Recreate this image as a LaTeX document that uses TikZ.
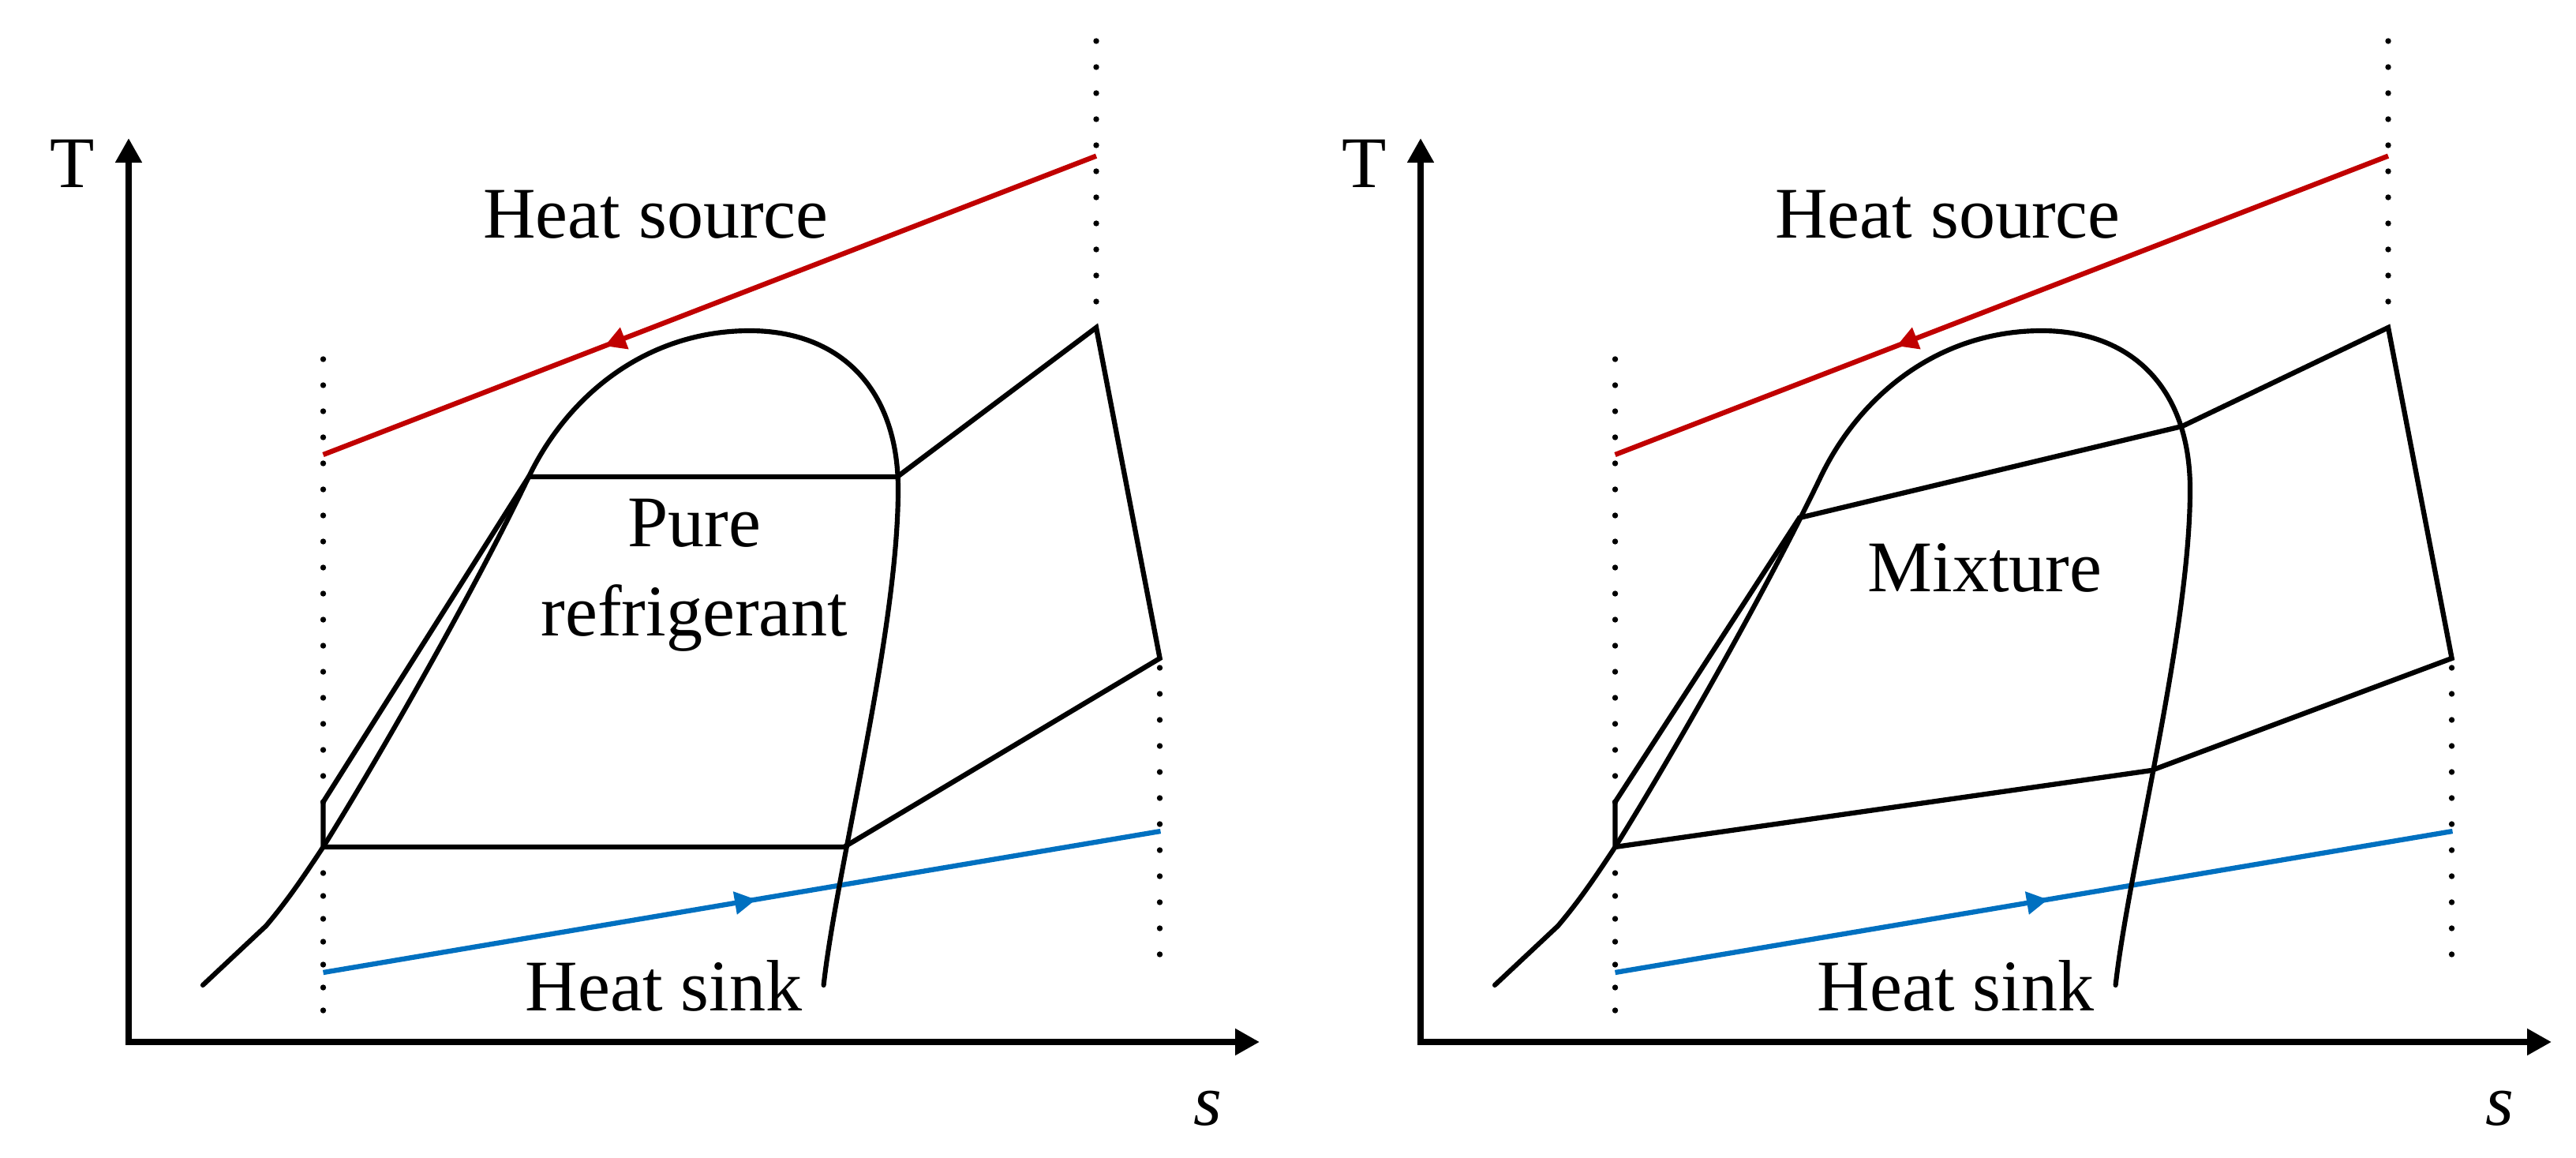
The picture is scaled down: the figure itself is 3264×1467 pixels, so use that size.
\documentclass[tikz,border=0pt]{standalone}
\usepackage{fontspec}
\setmainfont{Liberation Serif}
\usetikzlibrary{arrows.meta,decorations.markings}
\definecolor{srcred}{RGB}{192,0,0}
\definecolor{sinkblue}{RGB}{0,112,192}
\begin{document}
\begin{tikzpicture}[x=0.01cm,y=-0.01cm,
  axis/.style={line width=2.2pt,line join=miter,
    {Triangle[length=0.31cm,width=0.32cm]}-{Triangle[length=0.31cm,width=0.32cm]}},
  cyc/.style={line width=1.8pt,line join=miter},
  domeline/.style={line width=1.75pt,line cap=round},
  flowline/.style={line width=1.8pt,postaction={decorate},
    decoration={markings,mark=at position #1 with {\arrow{Triangle[length=0.27cm,width=0.28cm]}}}},
  lbl/.style={font=\fontsize{26.2}{31.9}\selectfont,inner sep=0pt,anchor=base},
  dotm/.style={fill=black}
]
\useasboundingbox (0,0) rectangle (3264,1467);

\foreach \dx/\p in {0/a,1637/b}{
\begin{scope}[xshift=\dx*0.01cm]
  % axes
  \coordinate (ty\p) at (163,175);
  \coordinate (o\p) at (163,1320);
  \coordinate (sx\p) at (1596,1320);
  \draw[axis] (ty\p) -- (o\p) -- (sx\p);
  \node[lbl] (T\p) at (92,238) {T};
  \node[lbl] (s\p) at (1530,1425) {\textit{s}};
  % dotted guides
  \foreach \y in {455,488,...,1016} \fill[dotm] (409.5,\y) circle[radius=0.037cm];
  \foreach \y in {1106,1135,...,1280} \fill[dotm] (409.5,\y) circle[radius=0.037cm];
  \foreach \y in {52,85,...,383} \fill[dotm] (1389,\y) circle[radius=0.037cm];
  \foreach \y in {846,879,...,1210} \fill[dotm] (1469.5,\y) circle[radius=0.037cm];
  % heat source and heat sink
  \coordinate (hsA\p) at (409.5,576);
  \coordinate (hsB\p) at (1389,197.6);
  \draw[flowline=0.636,srcred] (hsB\p) -- (hsA\p);
  \coordinate (skA\p) at (409.5,1232);
  \coordinate (skB\p) at (1470.5,1053);
  \draw[flowline=0.517,sinkblue] (skA\p) -- (skB\p);
  \node[lbl] (src\p) at (831,302) {Heat source};
  \node[lbl] (sink\p) at (841,1280) {Heat sink};
  % saturation dome
  \draw[domeline] (257,1248) -- (337,1173)
    .. controls (365,1140) and (385,1110) .. (409.5,1073)
    .. controls (480,960) and (600,750) .. (670,604)
    .. controls (720,500) and (820,419) .. (950,419)
    .. controls (1062,419) and (1138,490) .. (1138,620)
    .. controls (1138,800) and (1060,1100) .. (1043.6,1248);
\end{scope}
}

% pure refrigerant cycle
\coordinate (p1) at (409.5,1073);
\coordinate (p2) at (1069.6,1073);
\coordinate (p3) at (1469.6,834);
\coordinate (p4) at (1389,415);
\coordinate (p5) at (1137,604);
\coordinate (p6) at (670,604);
\coordinate (p7) at (409.5,1016);
\draw[cyc] (p1) -- (p2) -- (p3) -- (p4) -- (p5) -- (p6) -- (p7) -- cycle;
\node[lbl,align=center] (pure) at (880,805) {Pure\\refrigerant};

% mixture cycle
\coordinate (m1) at (2046.5,1073);
\coordinate (m2) at (2726,976);
\coordinate (m3) at (3106.6,834);
\coordinate (m4) at (3026,415);
\coordinate (m5) at (2765,540);
\coordinate (m6) at (2280,656);
\coordinate (m7) at (2046.5,1016);
\draw[cyc] (m1) -- (m2) -- (m3) -- (m4) -- (m5) -- (m6) -- (m7) -- cycle;
\node[lbl] (mix) at (2515,749) {Mixture};
\end{tikzpicture}
\end{document}
